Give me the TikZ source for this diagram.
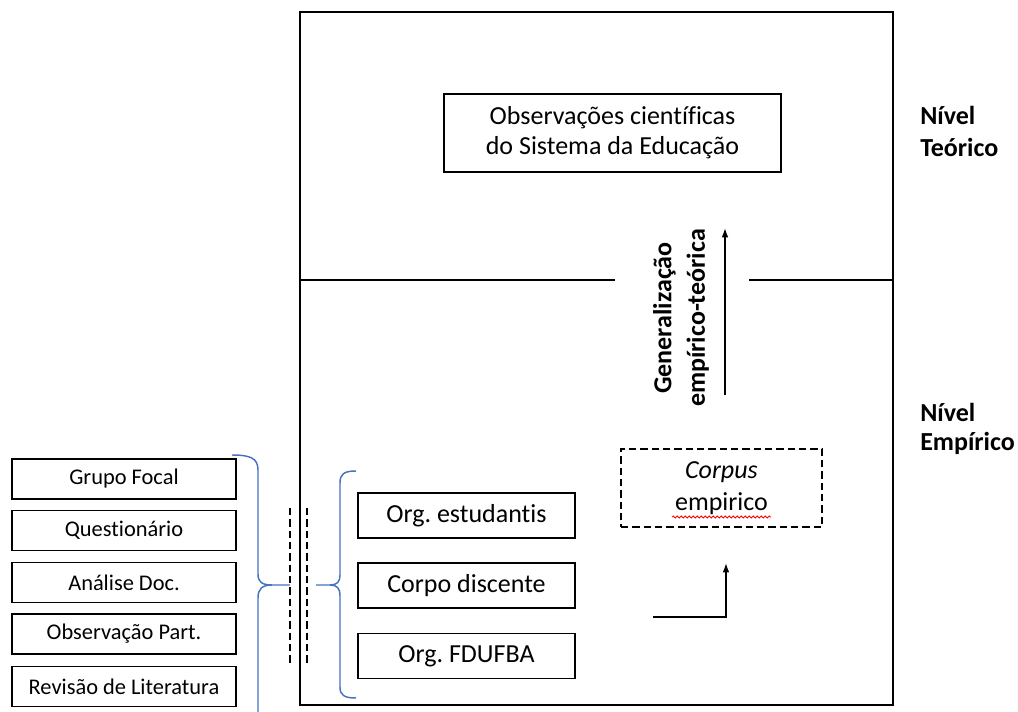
\documentclass[tikz,border=0pt]{standalone}
\usepackage{fontspec}
\setmainfont{Carlito}[Ligatures=NoCommon]
\usetikzlibrary{arrows.meta,decorations.pathmorphing}
\definecolor{wordblue}{RGB}{68,114,196}
\frenchspacing
\begin{document}
\begin{tikzpicture}[x=0.75pt,y=-0.75pt,
  bigtxt/.style={font=\fontsize{19.5}{22}\selectfont},
  smalltxt/.style={font=\fontsize{16.8}{20}\selectfont},
  leftbox/.style={draw, line width=1.1pt, minimum width=224*0.75pt, minimum height=40*0.75pt, inner sep=0pt, smalltxt},
  orgbox/.style={draw, line width=1.1pt, minimum width=217*0.75pt, minimum height=45*0.75pt, inner sep=0pt, bigtxt},
  frameline/.style={line width=1.1pt},
  brace/.style={draw=wordblue, line width=1.1pt},
  dashline/.style={line width=1.1pt, dash pattern=on 5.5pt off 3pt},
  arr/.style={line width=1.1pt, -{Latex[length=7pt,width=5pt]}}
]
\useasboundingbox (0,0) rectangle (1018,711);
% main frame
\draw[frameline] (300,12) rectangle (893,705);
\coordinate (divL1) at (300,280);
\coordinate (divL2) at (615,280);
\coordinate (divR1) at (749,280);
\coordinate (divR2) at (893,280);
\draw[frameline] (divL1) -- (divL2);
\draw[frameline] (divR1) -- (divR2);

% top box
\node[draw, line width=1.1pt, minimum width=337*0.75pt, minimum height=78*0.75pt, align=center, inner sep=0pt,
  font=\fontsize{19.5}{22.5}\selectfont] (obs) at (612.5,133) {Observações científicas\\do Sistema da Educação};

% levels
\node[anchor=west, align=left, inner sep=0pt, font=\fontsize{19.5}{24}\selectfont\bfseries] (teor) at (920,131) {Nível\\Teórico};
\node[anchor=west, align=left, inner sep=0pt, font=\fontsize{19.5}{21.5}\selectfont\bfseries] (emp) at (920,429) {Nível\\Empírico};

% generalization arrow
\coordinate (genB) at (725,395);
\coordinate (genT) at (725,228);
\draw[arr] (genB) -- (genT);
\node[rotate=90, align=center, inner sep=0pt, font=\fontsize{19.5}{25}\selectfont\bfseries] (gen) at (681,318) {Generalização\\empírico-teórica};

% corpus box
\node[draw, dashline, minimum width=201*0.75pt, minimum height=78*0.75pt, align=center, inner sep=0pt,
  font=\fontsize{19.5}{24}\selectfont] (corpus) at (721.5,488) {\itshape Corpus\\empirico};
\coordinate (wavA) at (672,517);
\coordinate (wavB) at (771,517);
\draw[red, line width=0.6pt, decorate, decoration={snake, amplitude=0.8pt, segment length=3pt}] (wavA) -- (wavB);

% elbow arrow
\coordinate (elA) at (653,617);
\coordinate (elB) at (726,617);
\coordinate (elC) at (726,563);
\draw[arr] (elA) -- (elB) -- (elC);

% org boxes
\node[orgbox] (org1) at (466.5,515.5) {Org. estudantis};
\node[orgbox] (org2) at (466.5,585.5) {Corpo discente};
\node[orgbox] (org3) at (466.5,656) {Org. FDUFBA};

% left boxes
\node[leftbox] (l1) at (124,479) {Grupo Focal};
\node[leftbox] (l2) at (124,530.5) {Questionário};
\node[leftbox] (l3) at (124,582.5) {Análise Doc.};
\node[leftbox] (l4) at (124,634) {Observação Part.};
\node[leftbox] (l5) at (124,686.5) {Revisão de Literatura};

% dashed verticals
\coordinate (d1t) at (290,508);
\coordinate (d1b) at (290,663);
\coordinate (d2t) at (307,508);
\coordinate (d2b) at (307,663);
\draw[dashline] (d1t) -- (d1b);
\draw[dashline] (d2t) -- (d2b);

% left brace (})
\begin{scope}
\clip (0,0) rectangle (1018,711);
\draw[brace] (232,455) .. controls (250,455) and (258,458) .. (258,470) -- (258,574)
  .. controls (258,582) and (262,585) .. (272,585) -- (290,585);
\draw[brace] (272,585) .. controls (262,585) and (258,589) .. (258,598) -- (258,720);
\end{scope}

% right brace ({)
\draw[brace] (356,471) .. controls (344,471) and (340,474) .. (340,483) -- (340,575)
  .. controls (340,582) and (337,585) .. (330,585) -- (316,585);
\draw[brace] (330,585) .. controls (337,585) and (340,588) .. (340,596) -- (340,687)
  .. controls (340,695) and (344,698) .. (356,698);
\end{tikzpicture}
\end{document}
